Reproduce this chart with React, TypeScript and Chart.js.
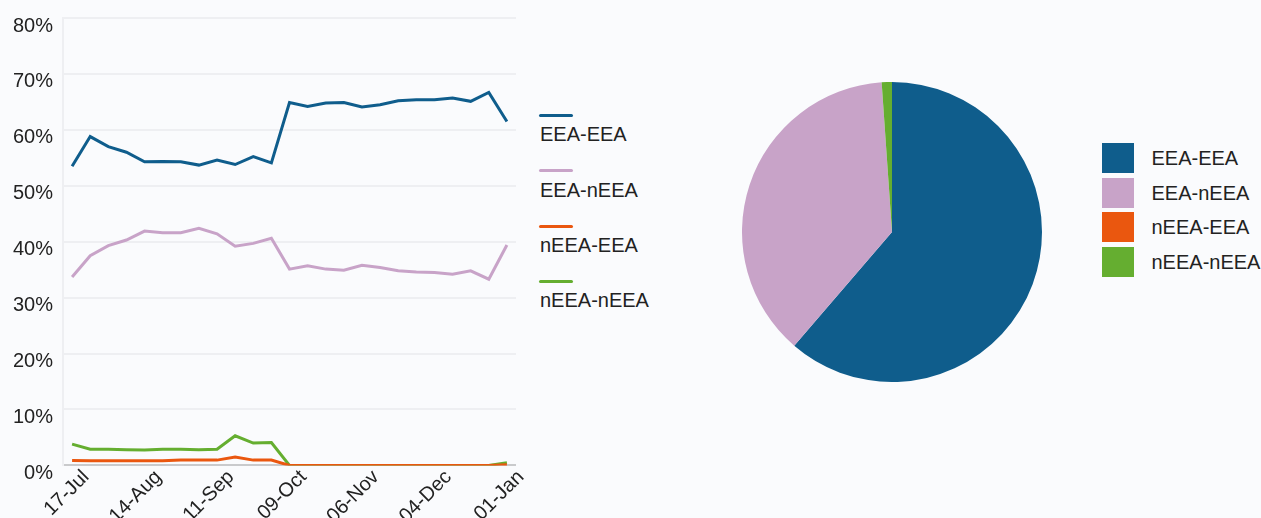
import React, { useEffect, useRef } from "react";
import { Chart, registerables } from "chart.js";

Chart.register(...registerables);

const weeks = [
  "17-Jul", "24-Jul", "31-Jul", "07-Aug", "14-Aug", "21-Aug", "28-Aug", "04-Sep",
  "11-Sep", "18-Sep", "25-Sep", "02-Oct", "09-Oct", "16-Oct", "23-Oct", "30-Oct",
  "06-Nov", "13-Nov", "20-Nov", "27-Nov", "04-Dec", "11-Dec", "18-Dec", "25-Dec", "01-Jan",
];

const seriesNames = ["EEA-EEA", "EEA-nEEA", "nEEA-EEA", "nEEA-nEEA"];
const seriesColors = ["#0f5d8c", "#c8a3c8", "#ea570f", "#65ae30"];

const eeaEea = [53.5, 58.8, 57.0, 56.0, 54.3, 54.35, 54.3, 53.7, 54.6, 53.8, 55.2, 54.1,
  64.9, 64.2, 64.8, 64.9, 64.1, 64.5, 65.2, 65.4, 65.4, 65.7, 65.1, 66.7, 61.5];
const eeaNeea = [33.7, 37.5, 39.3, 40.3, 41.9, 41.6, 41.6, 42.4, 41.4, 39.2, 39.7, 40.6,
  35.1, 35.7, 35.1, 34.9, 35.8, 35.4, 34.8, 34.6, 34.5, 34.2, 34.8, 33.3, 39.4];
const neeaEea = [0.9, 0.85, 0.85, 0.85, 0.85, 0.85, 0.95, 0.95, 0.95, 1.5, 0.95, 0.95,
  0, 0, 0, 0, 0, 0, 0, 0, 0, 0, 0, 0, 0.1];
const neeaNeea = [3.8, 2.9, 2.9, 2.8, 2.75, 2.9, 2.9, 2.8, 2.9, 5.3, 4.0, 4.1,
  0, 0, 0, 0, 0, 0, 0, 0, 0, 0, 0, 0, 0.5];

const pieValues = [61.3, 37.6, 0, 1.1];

const yTicks = [0, 10, 20, 30, 40, 50, 60, 70, 80];

const FONT = '"Liberation Sans", Arial, Helvetica, sans-serif';
const BG = "#fafbfd";

export default function App() {
  const lineRef = useRef<HTMLCanvasElement>(null);
  const pieRef = useRef<HTMLCanvasElement>(null);

  useEffect(() => {
    Chart.defaults.font.family = FONT;
    const lineChart = new Chart(lineRef.current!, {
      type: "line",
      data: {
        labels: weeks,
        datasets: [eeaEea, eeaNeea, neeaEea, neeaNeea].map((d, i) => ({
          label: seriesNames[i],
          data: d,
          borderColor: seriesColors[i],
          backgroundColor: seriesColors[i],
          borderWidth: 3,
          pointRadius: 0,
          tension: 0,
          fill: false,
        })),
      },
      options: {
        animation: false,
        responsive: false,
        maintainAspectRatio: false,
        layout: { padding: { left: 3, top: 4, right: 6, bottom: 0 } },
        plugins: { legend: { display: false }, tooltip: { enabled: false } },
        scales: {
          x: {
            offset: true,
            grid: { display: false, drawTicks: false },
            border: { display: true, color: "#c9cacc", width: 2 },
            ticks: {
              autoSkip: false,
              minRotation: 45,
              maxRotation: 45,
              padding: 0,
              labelOffset: 14,
              color: "#222",
              font: { size: 20, family: FONT },
              callback: (_v: any, i: number) => (i % 4 === 0 ? weeks[i] : ""),
            },
          },
          y: {
            min: yTicks[0],
            max: yTicks[yTicks.length - 1],
            afterBuildTicks: (axis: any) => {
              axis.ticks = yTicks.map((v) => ({ value: v }));
            },
            grid: { color: "#eeeff2", lineWidth: 2, drawTicks: false },
            border: { display: true, color: "#eeeff2", width: 2 },
            ticks: {
              padding: 10,
              labelOffset: 8,
              color: "#222",
              font: { size: 20, family: FONT },
              callback: (v: any) => v + "%",
            },
          },
        },
      },
    });

    const pieChart = new Chart(pieRef.current!, {
      type: "pie",
      data: {
        labels: seriesNames,
        datasets: [
          {
            data: pieValues,
            backgroundColor: seriesColors,
            borderWidth: 0,
            hoverOffset: 0,
          },
        ],
      },
      options: {
        animation: false,
        responsive: false,
        maintainAspectRatio: false,
        layout: { padding: 0 },
        plugins: { legend: { display: false }, tooltip: { enabled: false } },
      },
    });

    return () => {
      lineChart.destroy();
      pieChart.destroy();
    };
  }, []);

  const textStyle: React.CSSProperties = {
    position: "absolute",
    font: `20px ${FONT}`,
    lineHeight: "20px",
    color: "#222",
    whiteSpace: "nowrap",
  };

  return (
    <div
      style={{
        position: "fixed",
        left: 0,
        top: 0,
        width: 1261,
        height: 518,
        background: BG,
        overflow: "hidden",
      }}
    >
      <canvas
        ref={lineRef}
        width={524}
        height={532}
        style={{ position: "absolute", left: 0, top: -4, width: 524, height: 532 }}
      />
      {seriesNames.map((n, i) => {
        const y = 115.5 + i * 55.3;
        return (
          <React.Fragment key={n}>
            <div
              style={{
                position: "absolute",
                left: 539,
                top: y - 1.5,
                width: 34,
                height: 3,
                borderRadius: 1.5,
                background: seriesColors[i],
              }}
            />
            <div style={{ ...textStyle, left: 540, top: y + 8.7 }}>{n}</div>
          </React.Fragment>
        );
      })}
      <canvas
        ref={pieRef}
        width={300}
        height={300}
        style={{ position: "absolute", left: 742, top: 82, width: 300, height: 300 }}
      />
      {seriesNames.map((n, i) => {
        const top = 143.3 + i * 34.5;
        return (
          <React.Fragment key={"p" + n}>
            <div
              style={{
                position: "absolute",
                left: 1102,
                top,
                width: 32,
                height: 30,
                background: seriesColors[i],
              }}
            />
            <div style={{ ...textStyle, left: 1151.5, top: top + 4.8 }}>{n}</div>
          </React.Fragment>
        );
      })}
    </div>
  );
}
